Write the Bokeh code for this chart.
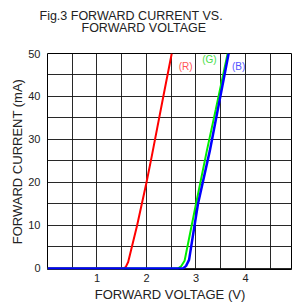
from bokeh.plotting import figure
from bokeh.models import FixedTicker, Range1d, Title
from bokeh.core.properties import value
from bokeh.embed import file_html
from bokeh.resources import INLINE

# ---- data ----
red_v = [0.0, 1.54, 1.58, 1.63, 1.81, 2.00, 2.11, 2.34, 2.51]
red_i = [0.0, 0.0, 0.3, 1.5, 10.0, 20.0, 26.3, 40.0, 50.0]
green_v = [0.0, 2.64, 2.70, 2.77, 3.00, 3.22, 3.40, 3.64]
green_i = [0.0, 0.0, 0.5, 1.8, 15.0, 27.4, 37.0, 50.0]
blue_v = [0.0, 2.74, 2.80, 2.86, 3.04, 3.28, 3.66]
blue_i = [0.0, 0.0, 0.6, 2.0, 15.0, 27.4, 50.0]

x_ticks = [1, 2, 3, 4]
y_ticks = [0, 10, 20, 30, 40, 50]
x_grid = [0, 0.5, 1, 1.5, 2, 2.5, 3, 3.5, 4, 4.5, 5]
y_grid = [0, 5, 10, 15, 20, 25, 30, 35, 40, 45, 50]

series_names = ["(R)", "(G)", "(B)"]
name_x = [2.79, 3.27, 3.86]
name_y = [47.0, 48.6, 47.0]

title_lines = ["Fig.3 FORWARD CURRENT VS.", "FORWARD VOLTAGE"]

FONT = "Liberation Sans"

p = figure(width=292, height=304, output_backend="svg", toolbar_location=None,
           x_range=Range1d(0, 4.95), y_range=Range1d(-0.25, 50),
           min_border_left=47, min_border_right=0, min_border_top=51,
           min_border_bottom=34)
p.background_fill_color = "white"
p.border_fill_color = "white"
p.outline_line_color = "black"
p.outline_line_width = 1

# grid
p.xgrid.ticker = FixedTicker(ticks=x_grid)
p.ygrid.ticker = FixedTicker(ticks=y_grid)
for g in (p.xgrid, p.ygrid):
    g.grid_line_color = "#111111"
    g.grid_line_width = 1
    g.grid_line_alpha = 0.9

# axes
p.xaxis.ticker = FixedTicker(ticks=x_ticks)
p.yaxis.ticker = FixedTicker(ticks=y_ticks)
for ax in (p.xaxis, p.yaxis):
    ax.axis_line_color = None
    ax.major_tick_line_color = None
    ax.minor_tick_line_color = None
    ax.major_tick_out = 0
    ax.major_tick_in = 0
    ax.minor_tick_out = 0
    ax.minor_tick_in = 0
    ax.major_label_text_font = FONT
    ax.major_label_text_font_size = "11px"
    ax.major_label_text_color = "#222222"
    ax.axis_label_text_font = FONT
    ax.axis_label_text_font_size = "13px"
    ax.axis_label_text_font_style = "normal"
    ax.axis_label_text_color = "#222222"
p.xaxis.axis_label = "FORWARD VOLTAGE (V)"
p.yaxis.axis_label = "FORWARD CURRENT (mA)"
p.xaxis.major_label_standoff = 4
p.yaxis.major_label_standoff = 7
p.xaxis.axis_label_standoff = 2
p.yaxis.axis_label_standoff = 0

# curves
p.line(red_v, red_i, line_color="#ff0000", line_width=2)
p.line(green_v, green_i, line_color="#00ee00", line_width=2)
p.line(blue_v, blue_i, line_color="#0000ff", line_width=2.5)

# series names
p.text(x=name_x, y=name_y, text=series_names,
       text_color=["#ff5555", "#44dd44", "#5555ff"],
       text_font=value(FONT), text_font_size="10px",
       text_align="center", text_baseline="middle")

# two-line title
t2 = Title(text=title_lines[1], align="left", offset=34,
           text_font=FONT, text_font_size="12.5px", text_font_style="normal",
           text_color="#222222", standoff=37)
t1 = Title(text=title_lines[0], align="left", offset=-8,
           text_font=FONT, text_font_size="12.5px", text_font_style="normal",
           text_color="#222222", standoff=-44)
p.add_layout(t2, "above")
p.add_layout(t1, "above")

open("out.html", "w").write(file_html(p, INLINE))
